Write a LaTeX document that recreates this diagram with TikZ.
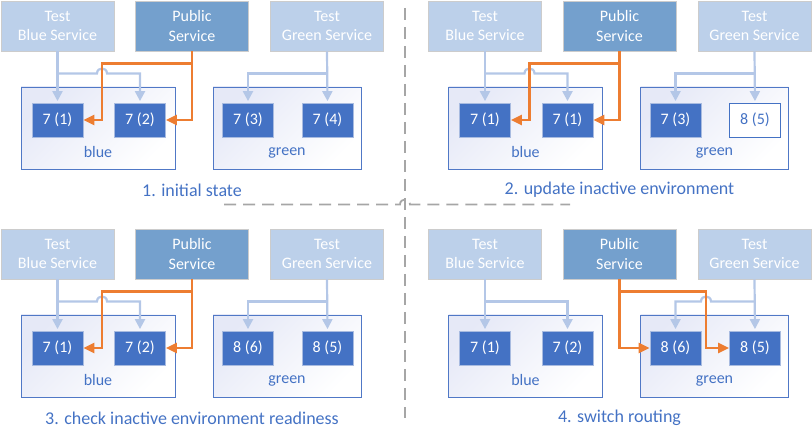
\documentclass[tikz,border=0pt]{standalone}
\usepackage{fontspec}
\setmainfont{Carlito}
\usetikzlibrary{arrows.meta}
\definecolor{testc}{HTML}{BCD0EA}
\definecolor{pubc}{HTML}{74A0CD}
\definecolor{svcborder}{HTML}{CCCCCC}
\definecolor{darkc}{HTML}{4472C4}
\definecolor{vmborder}{HTML}{A8BBE0}
\definecolor{envborder}{HTML}{5078C6}
\definecolor{envshade}{HTML}{E6E9F7}
\definecolor{linkc}{HTML}{B4C7E7}
\definecolor{orc}{HTML}{ED7D31}
\definecolor{sepc}{HTML}{A6A6A6}
\tikzset{
 svc/.style={minimum width=113pt, minimum height=50pt, inner sep=0pt, align=center, text=white, line width=0.8pt, font=\fontsize{16}{19.5}\selectfont},
 testsvc/.style={svc, fill=testc, draw=svcborder},
 pubsvc/.style={svc, fill=pubc, draw=svcborder},
 vm/.style={minimum width=51pt, minimum height=34pt, inner sep=0pt, fill=darkc, draw=vmborder, line width=0.8pt, text=white, font=\fontsize{16}{19.5}\selectfont},
 vmnew/.style={vm, fill=white, draw=darkc, text=darkc},
 env/.style={draw=envborder, line width=0.9pt, top color=envshade, bottom color=white, shading angle=45, minimum height=82pt, inner sep=0pt},
 envlbl/.style={text=darkc, inner sep=0pt, font=\fontsize{16}{19.5}\selectfont},
 caption/.style={text=darkc, inner sep=0pt, font=\fontsize{18}{22}\selectfont},
 bl/.style={draw=linkc, line width=2.2pt, line join=miter, shorten >=1.5pt, -{Triangle[length=10pt,width=10pt]}},
 orl/.style={draw=orc, line width=2.2pt, line join=miter, -{Triangle[length=11pt,width=10pt]}},
 sep/.style={draw=sepc, line width=1.8pt, dash pattern=on 12pt off 7pt},
}
\newcommand\mypanel[6]{%
  \node[env, minimum width=154pt] (#1envb) at (98,128) {};
  \node[env, minimum width=148pt] (#1envg) at (287,128) {};
  \node[envlbl] (#1lb) at (98,152.5) {blue};
  \node[envlbl] (#1lg) at (287,152.5) {green};
  \node[testsvc] (#1tb) at (57.5,26) {Test\\Blue Service};
  \node[pubsvc] (#1ps) at (192,26) {Public\\Service};
  \node[testsvc] (#1tg) at (327,26) {Test\\Green Service};
  \node[vm] (#1b1) at (57.5,120) {7 (1)};
  \node[vm] (#1b2) at (140,120) {#2};
  \node[vm] (#1g1) at (248,120) {#3};
  \node[#5] (#1g2) at (327.5,120) {#4};
  \node[caption] (#1cap) at (192,190) {#6};
}
\begin{document}
\begin{tikzpicture}[x=1pt,y=-1pt]
\useasboundingbox (0,0) rectangle (812,438);
% separators
\coordinate (vt) at (405,8);
\coordinate (vb) at (405,418);
\coordinate (hl) at (224,204.5);
\coordinate (hr) at (570,204.5);
\draw[sep] (vt) -- (vb);
\draw[sep] (hl) -- (400,204.5) .. controls (400,197.8) and (410,197.8) .. (410,204.5) -- (hr);
% panel 1
\begin{scope}
 \mypanel{a}{7 (2)}{7 (3)}{7 (4)}{vm}{1. initial state}
 \draw[bl] (atb.south) -- (ab1.north);
 \draw[bl] (atb.south |- 0,73.5) -- (97,73.5) .. controls (97,66.8) and (107,66.8) .. (107,73.5) -- (ab2.north |- 0,73.5) -- (ab2.north);
 \draw[bl] (atg.south) -- (ag2.north);
 \draw[bl] (atg.south |- 0,73.5) -- (ag1.north |- 0,73.5) -- (ag1.north);
 \draw[orl] (aps.south) |- (102,63.5) |- (ab1.east);
 \draw[orl] (aps.south) |- (ab2.east);
\end{scope}
% panel 2
\begin{scope}[shift={(427.5,0)}]
 \mypanel{b}{7 (1)}{7 (3)}{8 (5)}{vmnew}{2. update inactive environment}
 \draw[bl] (btb.south) -- (bb1.north);
 \draw[bl] (btb.south |- 0,73.5) -- (97,73.5) .. controls (97,66.8) and (107,66.8) .. (107,73.5) -- (bb2.north |- 0,73.5) -- (bb2.north);
 \draw[bl] (btg.south) -- (bg2.north);
 \draw[bl] (btg.south |- 0,73.5) -- (bg1.north |- 0,73.5) -- (bg1.north);
 \draw[orl] (bps.south) |- (102,63.5) |- (bb1.east);
 \draw[orl] (bps.south) |- (bb2.east);
\end{scope}
% panel 3
\begin{scope}[shift={(0,228)}]
 \mypanel{c}{7 (2)}{8 (6)}{8 (5)}{vm}{3. check inactive environment readiness}
 \draw[bl] (ctb.south) -- (cb1.north);
 \draw[bl] (ctb.south |- 0,73.5) -- (97,73.5) .. controls (97,66.8) and (107,66.8) .. (107,73.5) -- (cb2.north |- 0,73.5) -- (cb2.north);
 \draw[bl] (ctg.south) -- (cg2.north);
 \draw[bl] (ctg.south |- 0,73.5) -- (cg1.north |- 0,73.5) -- (cg1.north);
 \draw[orl] (cps.south) |- (102,63.5) |- (cb1.east);
 \draw[orl] (cps.south) |- (cb2.east);
\end{scope}
% panel 4
\begin{scope}[shift={(427.5,228)}]
 \mypanel{d}{7 (2)}{8 (6)}{8 (5)}{vm}{4. switch routing}
 \draw[bl] (dtb.south) -- (db1.north);
 \draw[bl] (dtb.south |- 0,73.5) -- (db2.north |- 0,73.5) -- (db2.north);
 \draw[bl] (dtg.south) -- (dg2.north);
 \draw[bl] (dtg.south |- 0,73.5) -- (283.5,73.5) .. controls (283.5,66.8) and (273.5,66.8) .. (273.5,73.5) -- (dg1.north |- 0,73.5) -- (dg1.north);
 \draw[orl] (dps.south) |- (278.5,63.5) |- (dg2.west);
 \draw[orl] (dps.south) |- (dg1.west);
\end{scope}
\end{tikzpicture}
\end{document}
